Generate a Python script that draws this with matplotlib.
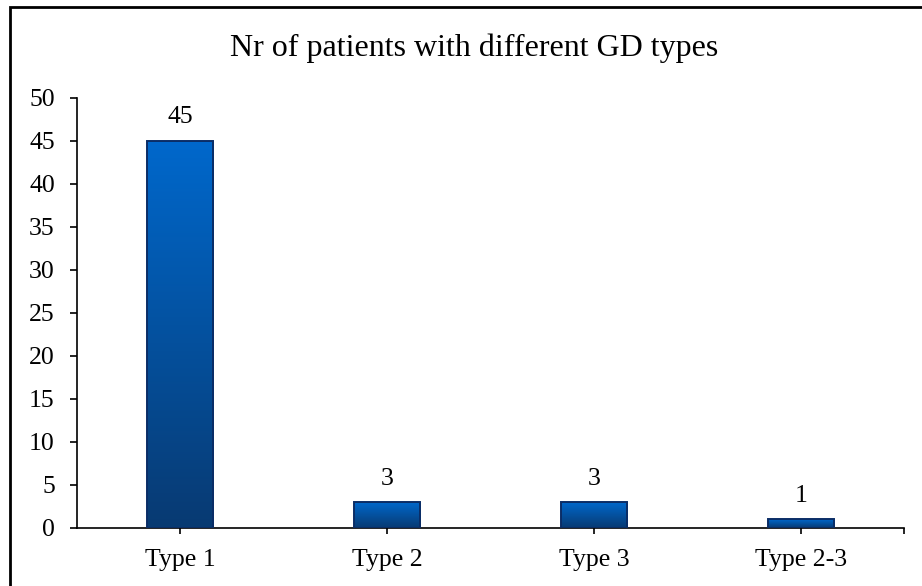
import matplotlib
matplotlib.use("Agg")
import matplotlib.pyplot as plt
import numpy as np
from matplotlib.colors import LinearSegmentedColormap
from matplotlib.patches import Rectangle

categories = ["Type 1", "Type 2", "Type 3", "Type 2-3"]
patients = [45, 3, 3, 1]
y_ticks = [0, 5, 10, 15, 20, 25, 30, 35, 40, 45, 50]

plt.rcParams["font.family"] = ["Liberation Serif", "DejaVu Serif"]

fig = plt.figure(figsize=(9.22, 5.86), dpi=100)
ax = fig.add_axes([0.0835, 0.099, 0.897, 0.7338])

x = np.arange(len(categories))
bars = ax.bar(x, patients, width=0.32, color="none", edgecolor="#0B2D66",
              linewidth=1.4, zorder=3)

# vertical blue gradient inside every bar (light at the top, dark at the bottom)
cmap = LinearSegmentedColormap.from_list("bar_grad", ["#083A72", "#0068CC"])
grad = np.linspace(0, 1, 256).reshape(-1, 1)
for b in bars:
    x0, y0 = b.get_x(), b.get_y()
    w, h = b.get_width(), b.get_height()
    im = ax.imshow(grad, cmap=cmap, origin="lower", aspect="auto",
                   extent=(x0, x0 + w, y0, y0 + h), zorder=2)
    im.set_clip_path(b)

for xi, v in zip(x, patients):
    ax.annotate(str(v), xy=(xi, v), xytext=(0, 9), textcoords="offset points",
                ha="center", va="bottom", fontsize=18.5)

ax.set_xlim(-0.5, 3.5)
ax.set_ylim(0, 50)
ax.set_yticks(y_ticks)
ax.set_yticklabels([str(t) for t in y_ticks], fontsize=18.5)
ax.set_xticks(list(x) + [3.5])
ax.set_xticklabels(categories + [""], fontsize=18.5)
ax.tick_params(axis="y", direction="out", length=5, width=1.2, pad=11)
ax.tick_params(axis="x", direction="out", length=4, width=1.2, pad=11)

for s in ["top", "right"]:
    ax.spines[s].set_visible(False)
for s in ["left", "bottom"]:
    ax.spines[s].set_linewidth(1.2)

fig.text(474 / 922, 1 - 48 / 586, "Nr of patients with different GD types",
         ha="center", va="center", fontsize=23)

# outer frame of the chart area
fig.patches.append(Rectangle((10 / 922, -0.1), 1.2, 1.1 - 7 / 586,
                             transform=fig.transFigure, fill=False,
                             edgecolor="black", linewidth=2, zorder=10))

fig.savefig("out.png", dpi=100)
